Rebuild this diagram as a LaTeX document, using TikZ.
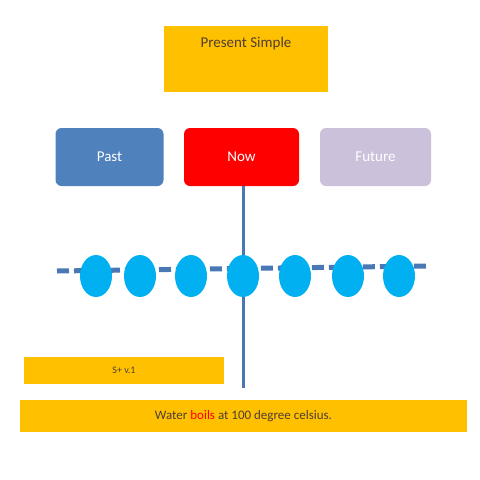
\documentclass[tikz,border=0pt]{standalone}
\usepackage{fontspec}
\setmainfont{Carlito}
\usetikzlibrary{shapes.geometric}
\definecolor{gold}{HTML}{FFC000}
\definecolor{pastblue}{HTML}{4F81BD}
\definecolor{nowred}{HTML}{FF0000}
\definecolor{lilac}{HTML}{CCC1DA}
\definecolor{dot}{HTML}{00B0F0}
\definecolor{ink}{HTML}{4F3F33}
\definecolor{axis}{HTML}{4A78B5}

\begin{document}
\begin{tikzpicture}[x=1pt,y=-1pt,
  bar/.style={fill=gold,draw=none,text=ink,inner sep=0pt},
  tense/.style={rounded corners=6pt,draw=none,text=white,font=\fontsize{15}{17}\selectfont,minimum width=108pt,minimum height=58pt,inner sep=0pt},
  dotnode/.style={ellipse,fill=dot,draw=none,minimum width=32pt,minimum height=42pt,inner sep=0pt}]
  \useasboundingbox (0,0) rectangle (480,480);
  % heading
  \node[bar,minimum width=164pt,minimum height=66pt] (title) at (246,59) {};
  \node[text=ink,font=\fontsize{15}{17}\selectfont] (titletext) at (246,43) {Present Simple};
  % past, now, future
  \node[tense,fill=pastblue] (past) at (109.5,157) {Past};
  \node[tense,fill=nowred,minimum width=115pt] (now) at (241.5,157) {Now};
  \node[tense,fill=lilac,minimum width=111pt] (future) at (375.5,157) {Future};
  % time line
  \coordinate (tl) at (57,271);
  \coordinate (tr) at (428,266);
  \draw[axis,line width=5pt,dash pattern=on 12pt off 5pt] (tl) -- (tr);
  \coordinate (nowend) at (243,388);
  \draw[axis,line width=3pt] (243,186) -- (nowend);
  \foreach \x [count=\i] in {96,140,191,243,295,348,399}
    \node[dotnode] (e\i) at (\x,276) {};
  % rule and example
  \node[bar,minimum width=200pt,minimum height=27pt,font=\fontsize{10}{12}\selectfont] (rule) at (124,370.5) {S+ v.1};
  \node[bar,minimum width=447pt,minimum height=32pt,font=\fontsize{13}{15}\selectfont] (example) at (243.5,416) {Water \textcolor{nowred}{boils} at 100 degree celsius.};
\end{tikzpicture}
\end{document}
